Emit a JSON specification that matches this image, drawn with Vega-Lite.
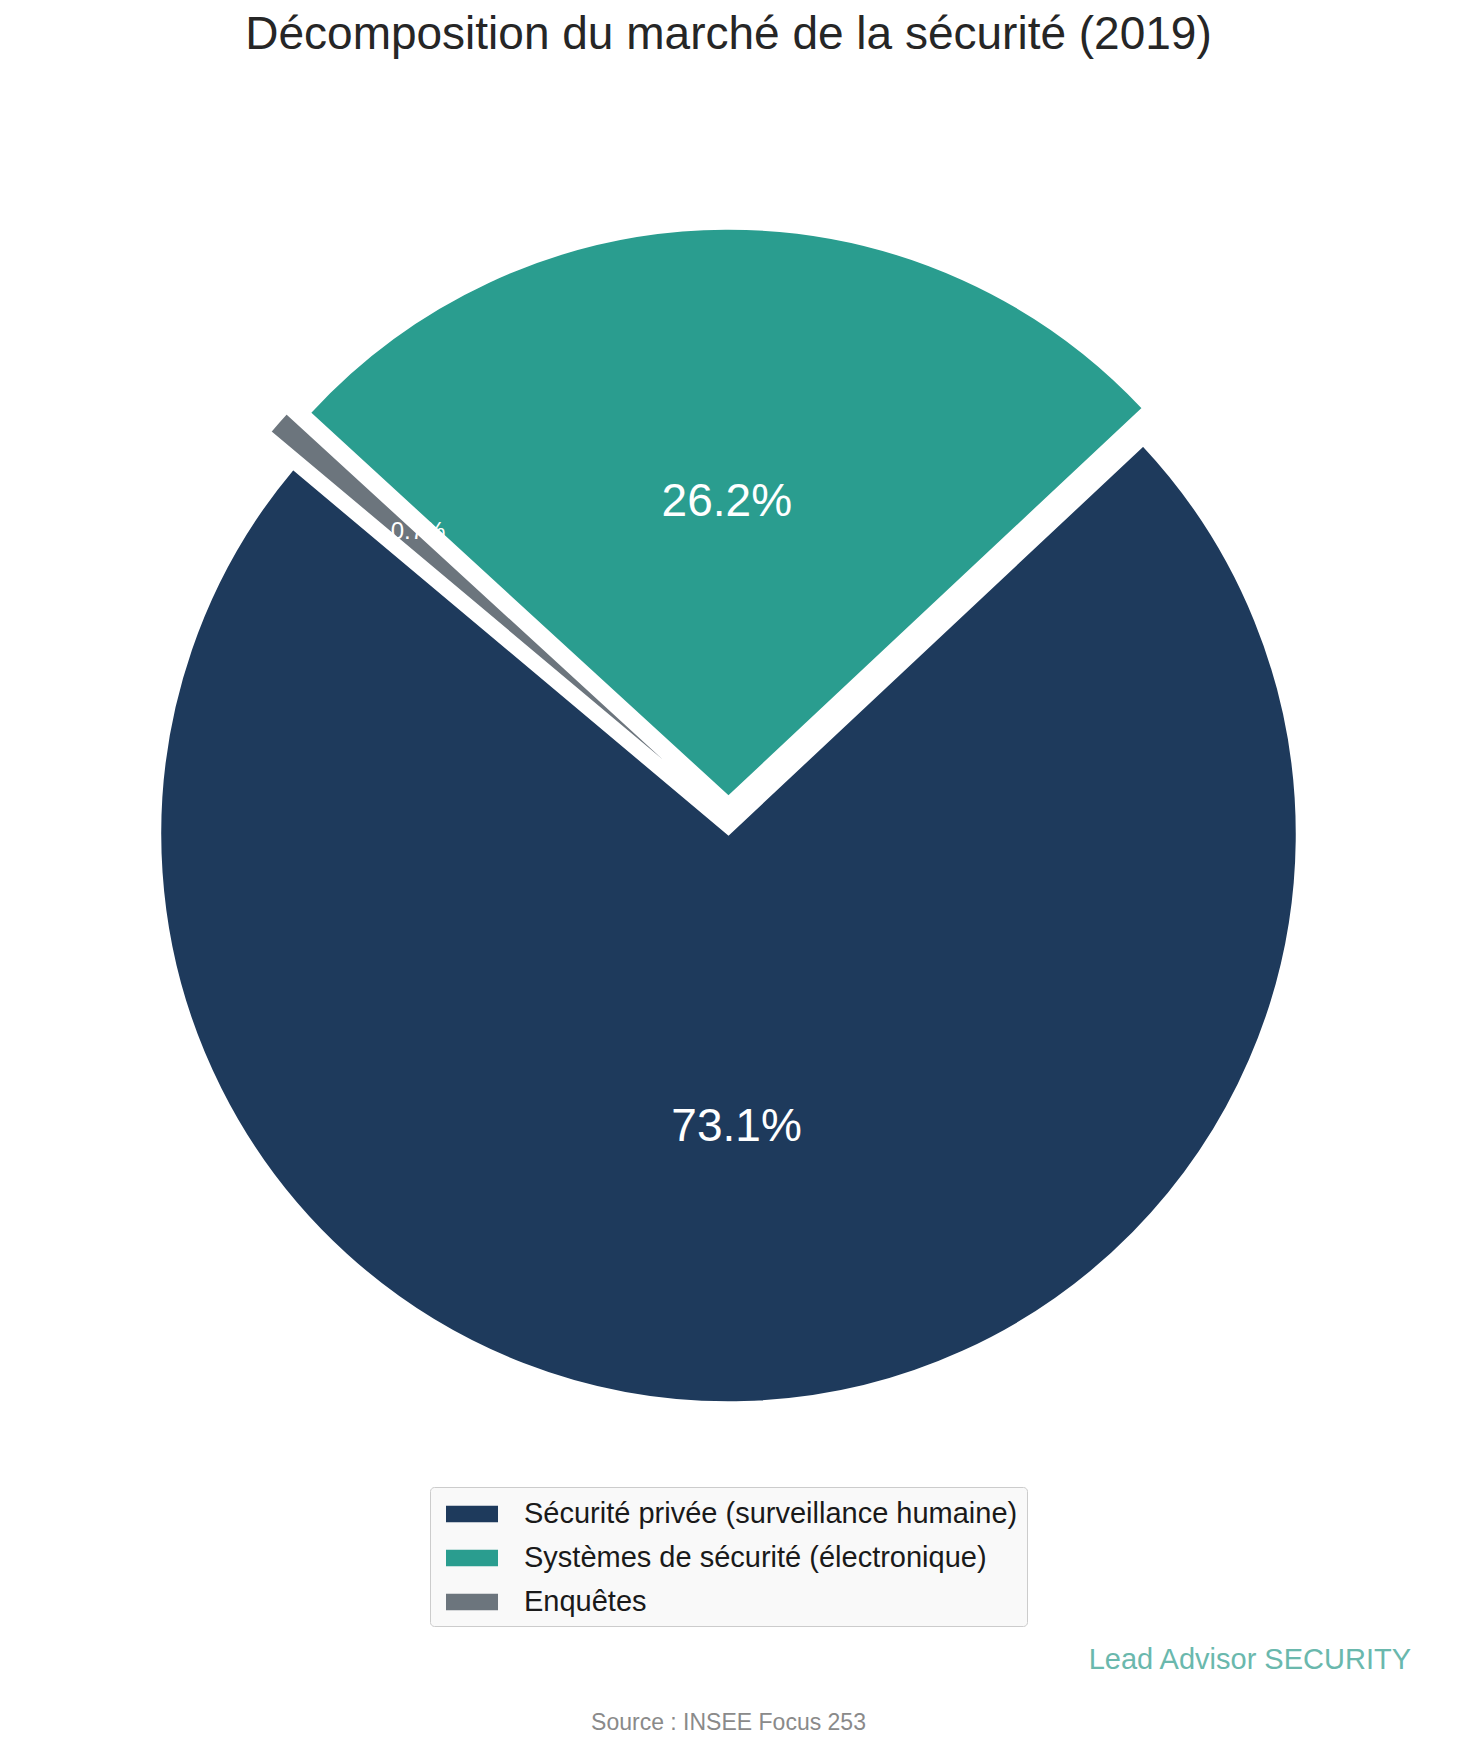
{
  "$schema": "https://vega.github.io/schema/vega-lite/v6.json",
  "padding": {"top": 12, "left": 0, "right": 0, "bottom": 0},
  "background": "white",
  "config": {"view": {"stroke": null}, "concat": {"spacing": 0}},
  "title": {"text": "Source : INSEE Focus 253", "orient": "bottom", "anchor": "middle", "fontSize": 23, "font": "Liberation Sans", "fontWeight": "normal", "color": "#8a8a8a", "offset": 37},
  "vconcat": [
    {
      "title": {"text": "Lead Advisor SECURITY", "orient": "bottom", "anchor": "end", "dx": -46, "fontSize": 29, "font": "Liberation Sans", "fontWeight": "normal", "color": "#6ab8ad", "offset": 60},
      "vconcat": [
        {
          "title": {"text": "Décomposition du marché de la sécurité (2019)", "anchor": "middle", "fontSize": 46, "font": "Liberation Sans", "fontWeight": "normal", "color": "#262626", "offset": 23},
          "width": 1457,
          "height": 1504,
          "data": {"values": [
            {"segment": "Sécurité privée (surveillance humaine)", "part": 73.1},
            {"segment": "Systèmes de sécurité (électronique)", "part": 26.2},
            {"segment": "Enquêtes", "part": 0.7}
          ]},
          "transform": [
            {"stack": "part", "groupby": [], "sort": [{"field": "part", "order": "ascending"}], "as": ["debut", "fin"]},
            {"calculate": "(datum.debut + datum.fin) / 2", "as": "milieu"},
            {"calculate": "format(datum.part, '.1f') + '%'", "as": "etiquette"}
          ],
          "layer": [
            {
              "transform": [{"filter": "datum.segment === 'Sécurité privée (surveillance humaine)'"}],
              "mark": {"type": "arc", "outerRadius": 568.5, "stroke": "white", "strokeWidth": 2.5},
              "encoding": {
                "theta": {"field": "debut", "type": "quantitative", "scale": {"domain": [0, 100], "range": [-0.8727, 5.4105]}},
                "theta2": {"field": "fin"},
                "color": {"field": "segment", "type": "nominal",
                  "scale": {"domain": ["Sécurité privée (surveillance humaine)", "Systèmes de sécurité (électronique)", "Enquêtes"], "range": ["#1e3a5c", "#2a9d8f", "#6c757d"]},
                  "legend": {"orient": "none", "legendX": 430, "legendY": 1405, "title": null, "labelFontSize": 29, "labelFont": "Liberation Sans", "labelColor": "#1a1a1a", "symbolType": "M-0.611,-0.461L2.278,-0.461L2.278,0.461L-0.611,0.461Z", "symbolSize": 1296, "symbolStrokeWidth": 0, "labelOffset": 49, "rowPadding": 11, "padding": 9, "fillColor": "#f9f9f9", "strokeColor": "#cccccc", "cornerRadius": 4, "labelLimit": 0, "symbolOpacity": 1}
                }
              }
            },
            {
              "transform": [{"filter": "datum.segment === 'Systèmes de sécurité (électronique)'"}],
              "mark": {"type": "arc", "outerRadius": 568.5, "stroke": "white", "strokeWidth": 2.5, "yOffset": -37},
              "encoding": {
                "theta": {"field": "debut", "type": "quantitative", "scale": {"domain": [0, 100], "range": [-0.8727, 5.4105]}},
                "theta2": {"field": "fin"},
                "color": {"field": "segment", "type": "nominal"}
              }
            },
            {
              "transform": [{"filter": "datum.segment === 'Enquêtes'"}],
              "mark": {"type": "arc", "outerRadius": 568.5, "stroke": "white", "strokeWidth": 2.5, "xOffset": -23, "yOffset": -37},
              "encoding": {
                "theta": {"field": "debut", "type": "quantitative", "scale": {"domain": [0, 100], "range": [-0.8727, 5.4105]}},
                "theta2": {"field": "fin"},
                "color": {"field": "segment", "type": "nominal"}
              }
            },
            {
              "transform": [{"filter": "datum.segment === 'Sécurité privée (surveillance humaine)'"}],
              "mark": {"type": "text", "radius": 293, "fontSize": 46, "font": "Liberation Sans", "color": "white"},
              "encoding": {
                "theta": {"field": "milieu", "type": "quantitative", "scale": {"domain": [0, 100], "range": [-0.8727, 5.4105]}},
                "text": {"field": "etiquette"}
              }
            },
            {
              "transform": [{"filter": "datum.segment === 'Systèmes de sécurité (électronique)'"}],
              "mark": {"type": "text", "radius": 295, "fontSize": 46, "font": "Liberation Sans", "color": "white", "yOffset": -37},
              "encoding": {
                "theta": {"field": "milieu", "type": "quantitative", "scale": {"domain": [0, 100], "range": [-0.8727, 5.4105]}},
                "text": {"field": "etiquette"}
              }
            },
            {
              "transform": [{"filter": "datum.segment === 'Enquêtes'"}],
              "mark": {"type": "text", "radius": 397, "fontSize": 24, "font": "Liberation Sans", "color": "white", "xOffset": -12, "yOffset": -40},
              "encoding": {
                "theta": {"field": "milieu", "type": "quantitative", "scale": {"domain": [0, 100], "range": [-0.8727, 5.4105]}},
                "text": {"field": "etiquette"}
              }
            }
          ]
        }
      ]
    }
  ]
}
